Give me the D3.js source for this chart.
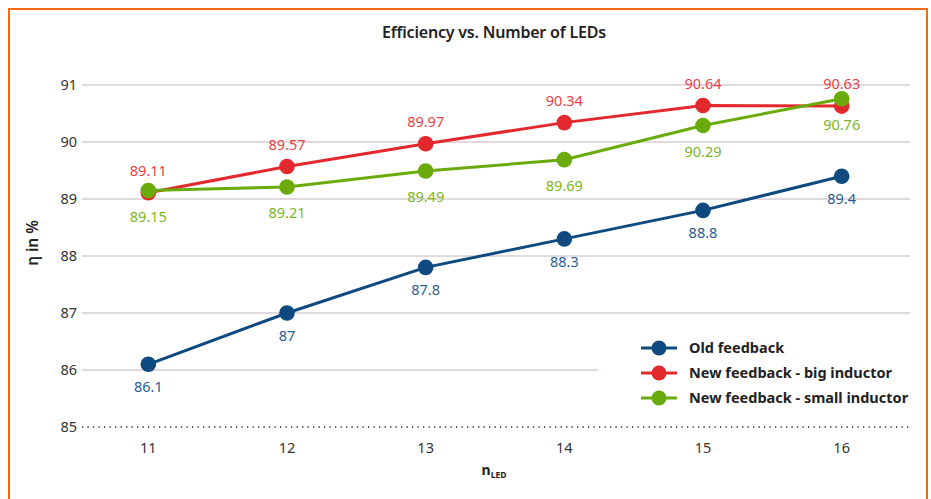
<!DOCTYPE html>
<html>
<head>
<meta charset="utf-8">
<script src="https://cdn.jsdelivr.net/npm/d3@7"></script>
<style>
html,body{margin:0;padding:0;background:#fff;}
svg{display:block;font-family:"Noto Sans","Open Sans",sans-serif;}
</style>
</head>
<body>
<svg id="chart" width="931" height="499"></svg>
<script>
const categories = [11, 12, 13, 14, 15, 16];
const oldFeedback = [86.1, 87, 87.8, 88.3, 88.8, 89.4];
const bigInductor = [89.11, 89.57, 89.97, 90.34, 90.64, 90.63];
const smallInductor = [89.15, 89.21, 89.49, 89.69, 90.29, 90.76];
const yTicks = [85, 86, 87, 88, 89, 90, 91];
const seriesNames = ["Old feedback", "New feedback - big inductor", "New feedback - small inductor"];

const series = [
  {name: seriesNames[0], values: oldFeedback, color: "#0e4a80", label: "#2b5d93", dy: 23},
  {name: seriesNames[1], values: bigInductor, color: "#e3292e", label: "#ea3f44", dy: -22},
  {name: seriesNames[2], values: smallInductor, color: "#6aab0b", label: "#7bb625", dy: 26}
];

const svg = d3.select("#chart");

// orange frame
svg.append("path")
  .attr("d", "M9,499 L9,9 L927,9 L927,499")
  .attr("fill", "none").attr("stroke", "#f5690f").attr("stroke-width", 2);

const x = d3.scaleBand().domain(categories).range([79, 911]);
const xc = d => x(d) + x.bandwidth() / 2;
const y = d3.scaleLinear().domain([85, 91]).range([427, 85]);

// gridlines
svg.append("g").selectAll("line").data(yTicks.filter(t => t !== 85)).join("line")
  .attr("x1", 82).attr("x2", 910)
  .attr("y1", d => y(d)).attr("y2", d => y(d))
  .attr("stroke", "#d8cdd1").attr("stroke-width", 1.3);
// dotted baseline
svg.append("line")
  .attr("x1", 82).attr("x2", 910).attr("y1", y(85)).attr("y2", y(85))
  .attr("stroke", "#333").attr("stroke-width", 1.3).attr("stroke-dasharray", "1.3,4.2");

// y axis labels
svg.append("g").selectAll("text").data(yTicks).join("text")
  .attr("x", 77).attr("y", d => y(d)).attr("dy", "0.35em")
  .attr("text-anchor", "end").attr("font-size", 14.5).attr("fill", "#333")
  .text(d => d);

// x axis labels
svg.append("g").selectAll("text").data(categories).join("text")
  .attr("x", d => xc(d)).attr("y", 448).attr("dy", "0.35em")
  .attr("text-anchor", "middle").attr("font-size", 14.5).attr("fill", "#333")
  .text(d => d);

// title
svg.append("text").attr("x", 494).attr("y", 38).attr("text-anchor", "middle")
  .attr("font-size", 16).attr("font-weight", 600).attr("fill", "#222")
  .attr("letter-spacing", "-0.2")
  .text("Efficiency vs. Number of LEDs");

// y title
svg.append("text").attr("transform", "translate(38,243) rotate(-90)")
  .attr("text-anchor", "middle").attr("font-size", 15.5).attr("font-weight", 600).attr("fill", "#222")
  .text("η in %");

// x title
const xt = svg.append("text").attr("x", 494).attr("y", 475).attr("text-anchor", "middle")
  .attr("fill", "#222").attr("font-weight", 700);
xt.append("tspan").attr("font-size", 14).text("n");
xt.append("tspan").attr("font-size", 8.5).attr("dy", 3).text("LED");

// lines & points
const line = d3.line().x((d, i) => xc(categories[i])).y(d => y(d));
series.forEach(s => {
  const g = svg.append("g");
  g.append("path").datum(s.values).attr("d", line)
    .attr("fill", "none").attr("stroke", s.color).attr("stroke-width", 3);
  g.selectAll("circle").data(s.values).join("circle")
    .attr("cx", (d, i) => xc(categories[i])).attr("cy", d => y(d)).attr("r", 7.8)
    .attr("fill", s.color);
});
// labels
series.forEach(s => {
  svg.append("g").selectAll("text").data(s.values).join("text")
    .attr("x", (d, i) => xc(categories[i])).attr("y", d => y(d) + s.dy).attr("dy", "0.35em")
    .attr("text-anchor", "middle").attr("font-size", 14.5).attr("fill", s.label)
    .text(d => d);
});

// legend
const lg = svg.append("g");
lg.append("rect").attr("x", 598).attr("y", 334).attr("width", 312).attr("height", 78).attr("fill", "#fff");
series.forEach((s, i) => {
  const yy = 348 + i * 25;
  lg.append("line").attr("x1", 641).attr("x2", 677).attr("y1", yy).attr("y2", yy)
    .attr("stroke", s.color).attr("stroke-width", 3);
  lg.append("circle").attr("cx", 659).attr("cy", yy).attr("r", 7.5).attr("fill", s.color);
  lg.append("text").attr("x", 689).attr("y", yy).attr("dy", "0.35em")
    .attr("font-size", 14.5).attr("font-weight", 700).attr("fill", "#222")
    .text(s.name);
});
</script>
</body>
</html>
